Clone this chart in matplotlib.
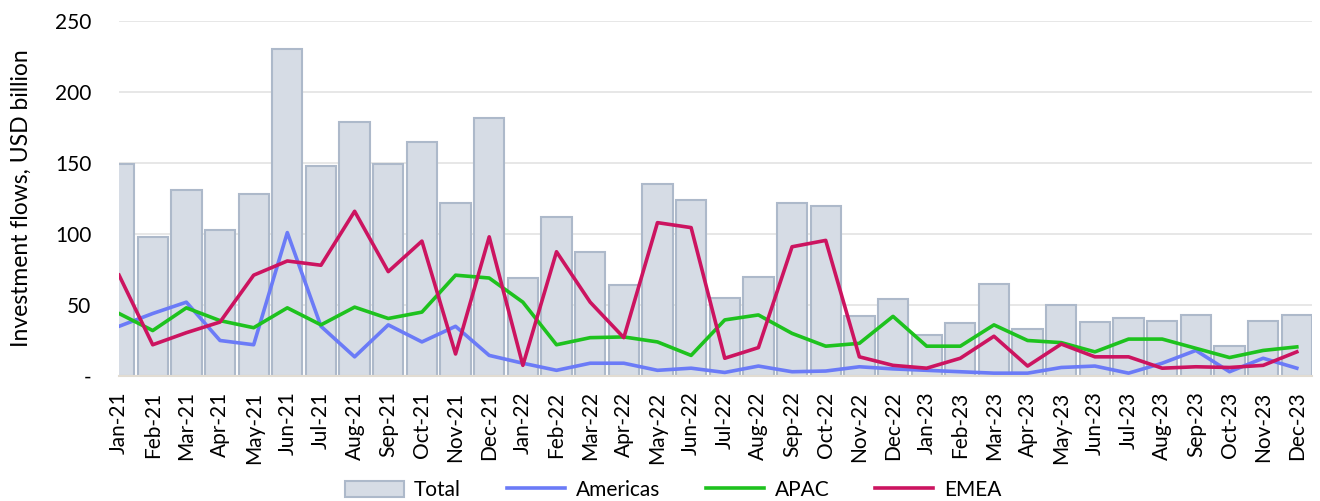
import matplotlib

matplotlib.use("Agg")
import matplotlib.pyplot as plt
import numpy as np

months = [f"{m}-{y}" for y in ("21", "22", "23")
          for m in ("Jan", "Feb", "Mar", "Apr", "May", "Jun",
                    "Jul", "Aug", "Sep", "Oct", "Nov", "Dec")]

total = [149, 98, 131, 103, 128, 230, 148, 179, 149, 165, 122, 182,
         69, 112, 87, 64, 135, 124, 55, 70, 122, 120, 42, 54,
         29, 37, 65, 33, 50, 38, 41, 39, 43, 21, 39, 43]
americas = [35, 44, 52, 25, 22, 101, 35, 13.5, 36, 24, 35, 14.5,
            9, 4, 9, 9, 4, 5.5, 2.5, 7, 3, 3.5, 6.5, 5,
            4, 3, 2, 2, 6, 7, 2, 9, 18, 3, 12.5, 5.5]
apac = [44, 32, 48, 39, 34, 48, 36, 48.5, 40.5, 45, 71, 69,
        52, 22, 27, 27.5, 24, 14.5, 39.5, 43, 30, 21, 23, 42,
        21, 21, 36, 25, 23.5, 17, 26, 26, 19.5, 13, 18, 20.5]
emea = [71, 22, 30.5, 38, 71, 81, 78, 116, 73.5, 95, 15.5, 98,
        7.5, 87.5, 52, 27, 108, 104.5, 12.5, 20, 91, 95.5, 13.5, 7.5,
        5.5, 12.5, 28, 7, 22.5, 13.5, 13.5, 5.5, 6.5, 6, 7.5, 17]

plt.rcParams["font.family"] = ["Lato", "DejaVu Sans"]

fig = plt.figure(figsize=(13.2, 5.01), dpi=100)
ax = fig.add_axes([0.0902, 0.2495, 0.9037, 0.7086])

x = np.arange(len(months))
bars = ax.bar(x, total, width=0.9, color="#D6DCE5", edgecolor="#ADB9CA",
              linewidth=1.5, label="Total", zorder=2)
l1, = ax.plot(x, americas, color="#6B7BF7", lw=2.6, label="Americas", zorder=3)
l2, = ax.plot(x, apac, color="#1EC21E", lw=2.6, label="APAC", zorder=3)
l3, = ax.plot(x, emea, color="#CC1460", lw=2.6, label="EMEA", zorder=3)

ax.set_xlim(0, 35.45)
ax.set_ylim(0, 250)
ax.set_yticks(np.arange(0, 251, 50))
ax.set_yticklabels(["-"] + [str(v) for v in range(50, 251, 50)])
ax.set_xticks(x)
ax.set_xticklabels(months, rotation=90)
ax.tick_params(axis="both", length=0, labelsize=15, colors="#000000")
ax.tick_params(axis="y", pad=20)
ax.tick_params(axis="x", pad=11)
ax.grid(axis="y", color="#E3E3E3", lw=1.2, zorder=0)
ax.set_axisbelow(True)
for side in ("left", "right", "top"):
    ax.spines[side].set_visible(False)
ax.spines["bottom"].set_color("#E2DCD2")
ax.spines["bottom"].set_linewidth(1.5)
ax.set_ylabel("Investment flows, USD billion", fontsize=16.5)
ax.yaxis.set_label_coords(-0.082, 0.5)
ax.yaxis.label.set_verticalalignment("center")

fig.legend([bars, l1, l2, l3], ["Total", "Americas", "APAC", "EMEA"],
           loc="lower center", bbox_to_anchor=(0.51, -0.035), ncol=4,
           frameon=False, fontsize=15, handlelength=2.8, handleheight=0.8,
           columnspacing=2.2, handletextpad=0.5)

fig.savefig("out.png", dpi=100)
